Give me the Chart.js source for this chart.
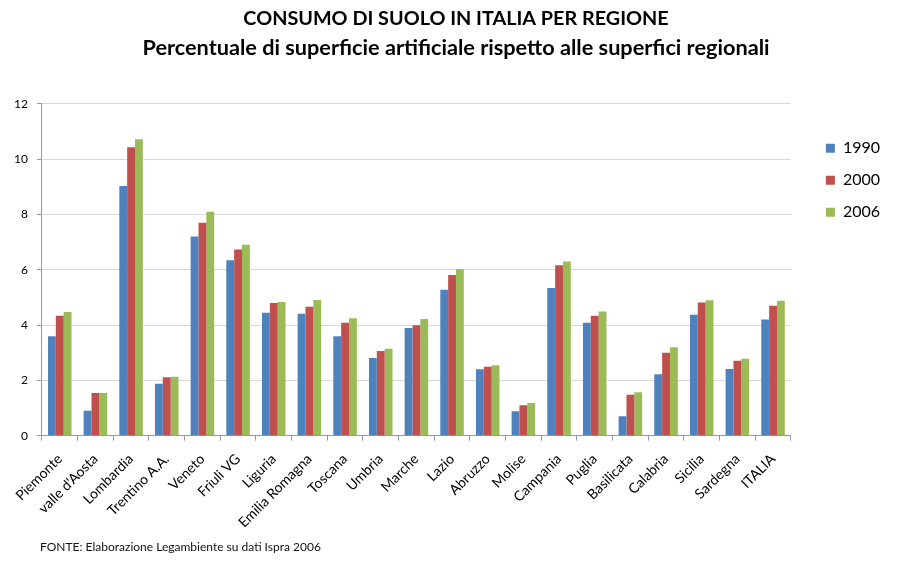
<!DOCTYPE html>
<html>
<head>
<meta charset="utf-8">
<script src="https://cdn.jsdelivr.net/npm/chart.js@4"></script>
<style>
  html, body { margin: 0; padding: 0; background: #fff; }
  #wrap { position: relative; width: 908px; height: 566px; }
  #note { position: absolute; left: 40px; top: 539px; font: 12px Lato, sans-serif; color: #111; }
</style>
</head>
<body>
<div id="wrap">
  <canvas id="chart" width="908" height="566"></canvas>
  <div id="note">FONTE: Elaborazione Legambiente su dati Ispra 2006</div>
</div>
<script>
  const regioni = ['Piemonte', "valle d'Aosta", 'Lombardia', 'Trentino A.A.', 'Veneto', 'Friuli VG', 'Liguria',
    'Emilia Romagna', 'Toscana', 'Umbria', 'Marche', 'Lazio', 'Abruzzo', 'Molise', 'Campania', 'Puglia',
    'Basilicata', 'Calabria', 'Sicilia', 'Sardegna', 'ITALIA'];

  const v1990 = [3.6, 0.9, 9.03, 1.88, 7.2, 6.34, 4.45, 4.41, 3.6, 2.81, 3.89, 5.28, 2.4, 0.88, 5.34, 4.08, 0.7, 2.22, 4.37, 2.41, 4.2];
  const v2000 = [4.34, 1.54, 10.43, 2.11, 7.7, 6.73, 4.8, 4.66, 4.08, 3.06, 3.99, 5.81, 2.49, 1.1, 6.16, 4.34, 1.48, 3.0, 4.82, 2.71, 4.7];
  const v2006 = [4.47, 1.54, 10.72, 2.13, 8.1, 6.9, 4.83, 4.91, 4.25, 3.14, 4.22, 6.02, 2.55, 1.18, 6.3, 4.49, 1.57, 3.2, 4.9, 2.78, 4.88];

  const yTicks = [0, 2, 4, 6, 8, 10, 12];

  const font = 'Lato';

  // legend sits further from the plot and titles are centred on the page, like the original
  const nudge = {
    id: 'nudge',
    afterLayout(chart) {
      chart.boxes.forEach((b) => {
        if (b === chart.legend) {
          b.left += 19;
          b.right += 19;
        } else if (b.position === 'top' && b.options && b.options.text) {
          b.left += 18;
          b.right += 18;
        }
      });
    }
  };

  new Chart(document.getElementById('chart'), {
    type: 'bar',
    data: {
      labels: regioni,
      datasets: [
        { label: '1990', data: v1990, backgroundColor: '#4F81BD' },
        { label: '2000', data: v2000, backgroundColor: '#C0504D' },
        { label: '2006', data: v2006, backgroundColor: '#9BBB59' }
      ]
    },
    plugins: [nudge],
    options: {
      responsive: false,
      animation: false,
      layout: { padding: { left: 5, right: 37, top: 0, bottom: 25 } },
      datasets: { bar: { categoryPercentage: 0.66, barPercentage: 1 } },
      plugins: {
        tooltip: { enabled: false },
        title: {
          display: true,
          text: 'CONSUMO DI SUOLO IN ITALIA PER REGIONE',
          font: { family: font, size: 19.8, weight: 'bold', lineHeight: 1.2 },
          color: '#000',
          padding: { top: 7, bottom: 4 }
        },
        subtitle: {
          display: true,
          text: 'Percentuale di superficie artificiale rispetto alle superfici regionali',
          font: { family: font, size: 21.7, weight: 'bold', lineHeight: 1.2 },
          color: '#000',
          padding: { top: 0, bottom: 43 }
        },
        legend: {
          position: 'right',
          align: 'start',
          fullSize: false,
          title: { display: true, text: '', padding: 3 },
          labels: {
            boxWidth: 9,
            boxHeight: 9,
            padding: 16,
            color: '#000',
            font: { family: font, size: 16 }
          }
        }
      },
      scales: {
        x: {
          grid: { display: true, drawOnChartArea: false, drawTicks: true, tickLength: 5, color: '#999' },
          border: { color: '#999' },
          ticks: {
            minRotation: 45,
            maxRotation: 45,
            autoSkip: false,
            color: '#000',
            padding: 10,
            font: { family: font, size: 14 }
          }
        },
        y: {
          min: 0,
          max: 12,
          afterBuildTicks: (axis) => { axis.ticks = yTicks.map((v) => ({ value: v })); },
          grid: { color: '#d9d9d9', tickColor: '#999', tickLength: 5 },
          border: { color: '#999' },
          ticks: { color: '#000', padding: 9, font: { family: font, size: 12 } }
        }
      }
    }
  });
</script>
</body>
</html>
